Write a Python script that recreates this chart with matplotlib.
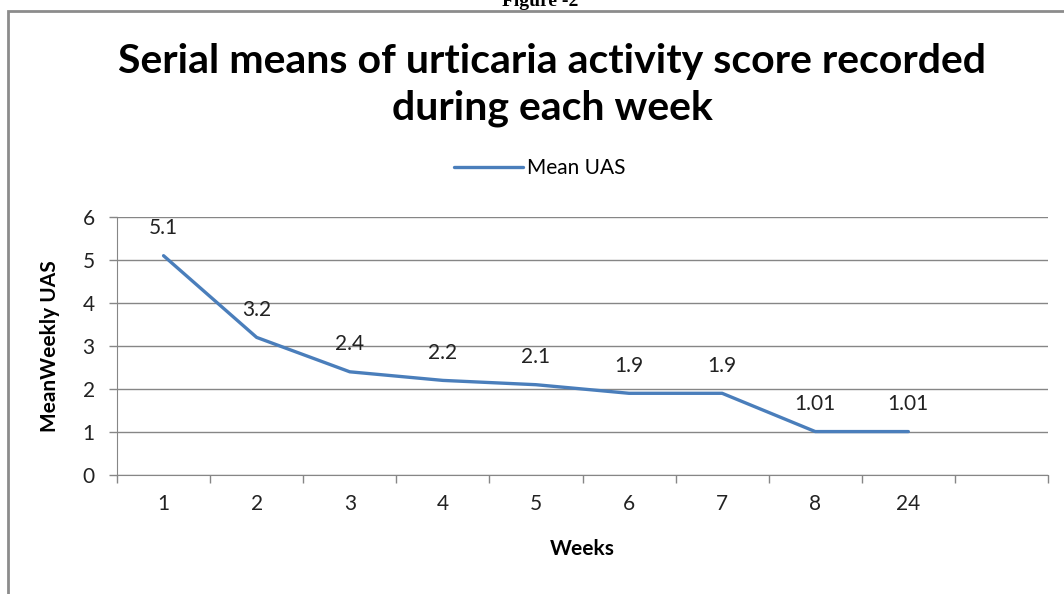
import numpy as np
import matplotlib.pyplot as plt
from matplotlib.patches import Rectangle

weeks = ['1', '2', '3', '4', '5', '6', '7', '8', '24']
mean_uas = [5.1, 3.2, 2.4, 2.2, 2.1, 1.9, 1.9, 1.01, 1.01]
uas_labels = ['5.1', '3.2', '2.4', '2.2', '2.1', '1.9', '1.9', '1.01', '1.01']

W, H = 1064, 594
fig = plt.figure(figsize=(W / 100, H / 100), dpi=100)
font = ['Lato', 'DejaVu Sans']

# outer chart border (cut off at right and bottom)
fig.patches.append(Rectangle((8 / W, -0.05), 1.2, 1 - 10.5 / H + 0.05, transform=fig.transFigure,
                             fill=False, edgecolor='#8c8c8c', linewidth=2))
fig.text(540 / W, 1 - 1 / H, 'Figure -2', ha='center', va='center', fontsize=14,
         fontweight='bold', family='Liberation Serif')

ax = fig.add_axes([117 / W, 1 - 475 / H, (1048 - 117) / W, (475 - 217) / H])
x = np.arange(len(weeks))
ax.plot(x, mean_uas, color='#4a7ebb', linewidth=2.4, label='Mean UAS', solid_capstyle='round')
for xi, v, t in zip(x, mean_uas, uas_labels):
    ax.annotate(t, (xi, v), xytext=(0, 20), textcoords='offset points', ha='center', va='center',
                fontsize=15, family=font, color='#222222')

ax.set_xlim(-0.5, 9.5)
ax.set_ylim(0, 6)
ax.set_yticks(range(0, 7))
ax.set_xticks(x)
ax.set_xticklabels(weeks)
ax.set_xticks(np.arange(-0.5, 10, 1), minor=True)
ax.tick_params(axis='x', which='major', length=0, pad=14, labelsize=15)
ax.tick_params(axis='x', which='minor', length=6, color='#868686', width=1)
ax.tick_params(axis='y', length=6, color='#868686', width=1, labelsize=15, pad=10)
for lab in ax.get_xticklabels() + ax.get_yticklabels():
    lab.set_family(font)
    lab.set_color('#222222')
ax.grid(axis='y', color='#868686', linewidth=1)
ax.set_axisbelow(True)
for s in ['top', 'right']:
    ax.spines[s].set_visible(False)
ax.spines['left'].set_color('#868686')
ax.spines['bottom'].set_color('#868686')

ax.set_xlabel('Weeks', fontsize=15, fontweight='bold', family=font, labelpad=18)
ax.set_ylabel('MeanWeekly UAS', fontsize=15, fontweight='bold', family=font, labelpad=16)

fig.text(552 / W, 1 - 85 / H, 'Serial means of urticaria activity score recorded\nduring each week',
         ha='center', va='center', fontsize=29.5, fontweight='bold', family=font, linespacing=1.3)
fig.legend(loc='center', bbox_to_anchor=(540 / W, 1 - 168 / H), frameon=False,
           prop={'family': font, 'size': 15}, handlelength=3.3, handletextpad=0.2)

fig.savefig('out.png', dpi=100)
